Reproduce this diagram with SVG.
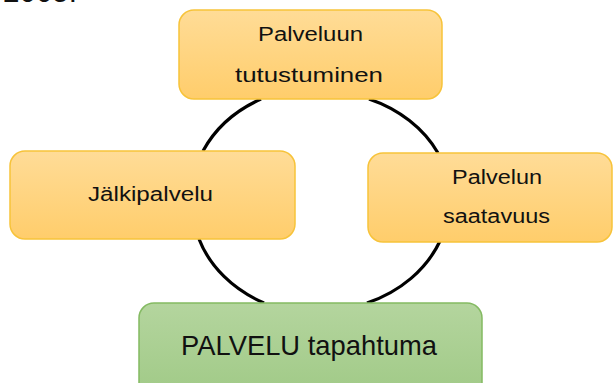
<svg xmlns="http://www.w3.org/2000/svg" width="614" height="383" viewBox="0 0 614 383">
<defs>
<linearGradient id="gOr" x1="0" y1="0" x2="0" y2="1">
<stop offset="0" stop-color="#FFDC97"/>
<stop offset="1" stop-color="#FFCD6B"/>
</linearGradient>
<linearGradient id="gGr" x1="0" y1="0" x2="0" y2="1">
<stop offset="0" stop-color="#B4D59E"/>
<stop offset="1" stop-color="#9FC985"/>
</linearGradient>
</defs>
<style>
.or{fill:url(#gOr);stroke:#F7C33A;stroke-width:1.5}
.gr{fill:url(#gGr);stroke:#84BA62;stroke-width:1.5}
.t{font-family:"Liberation Sans",Arial,sans-serif;font-size:20px;fill:#111;text-anchor:start}
.big{font-size:28px}
.arc{fill:none;stroke:#000;stroke-width:3.2}
</style>
<text class="t" x="3" y="2" style="font-size:32px" textLength="74" lengthAdjust="spacingAndGlyphs">2005.</text>
<g id="connectors">
<path class="arc" d="M203,151 A131,111 0 0 1 261,99"/>
<path class="arc" d="M369,99 A131,111 0 0 1 438,153"/>
<path class="arc" d="M440,241 A131,111 0 0 1 367,303"/>
<path class="arc" d="M264,303 A131,111 0 0 1 199,239"/>
</g>
<g id="node-tutustuminen">
<rect class="or" x="179" y="10" width="263" height="89" rx="15"/>
<text class="t" x="258" y="41" textLength="105" lengthAdjust="spacingAndGlyphs">Palveluun</text>
<text class="t" x="235" y="82" textLength="148" lengthAdjust="spacingAndGlyphs">tutustuminen</text>
</g>
<g id="node-jalkipalvelu">
<rect class="or" x="10" y="151" width="285" height="88" rx="15"/>
<text class="t" x="88" y="201" textLength="125" lengthAdjust="spacingAndGlyphs">Jälkipalvelu</text>
</g>
<g id="node-saatavuus">
<rect class="or" x="368" y="153" width="244" height="89" rx="15"/>
<text class="t" x="452" y="184" textLength="90" lengthAdjust="spacingAndGlyphs">Palvelun</text>
<text class="t" x="443" y="223" textLength="107" lengthAdjust="spacingAndGlyphs">saatavuus</text>
</g>
<g id="node-tapahtuma">
<rect class="gr" x="139" y="303" width="343" height="100" rx="15"/>
<text class="t big" x="181" y="355" textLength="256" lengthAdjust="spacingAndGlyphs">PALVELU tapahtuma</text>
</g>
</svg>
